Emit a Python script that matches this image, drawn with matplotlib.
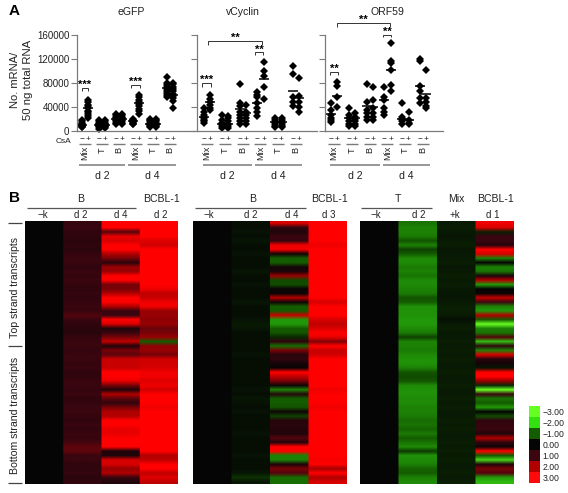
import numpy as np
import matplotlib
matplotlib.use("Agg")
import matplotlib.pyplot as plt
from matplotlib.colors import LinearSegmentedColormap, ListedColormap

plt.rcParams['font.family'] = ['Liberation Sans', 'DejaVu Sans']
W, H = 568, 493
fig = plt.figure(figsize=(W/100, H/100), dpi=100)

def axpx(x0, y0, x1, y1, **kw):
    return fig.add_axes([x0/W, 1-y1/H, (x1-x0)/W, (y1-y0)/H], **kw)

# ---------- Panel A data: columns are Mix-,Mix+,T-,T+,B-,B+ at d2, then d4
egfp_points = [
 [6000,7000,8000,9000,10000,11000,12000,14000,16000,18000],
 [22000,25000,28000,31000,34000,38000,41000,44000,48000,52000],
 [4000,6000,8000,9000,10000,11000,12000,14000,16000,18000],
 [5000,7000,8000,9000,10000,11000,12000,14000,16000,18000],
 [12000,14000,16000,18000,20000,22000,24000,26000,28000],
 [12000,14000,16000,18000,20000,22000,24000,26000,28000],
 [11000,12000,14000,15000,16000,17000,18000,19000,20000],
 [29000,33000,37000,41000,45000,48000,52000,56000,60000],
 [7000,8000,10000,11000,12000,14000,16000,18000,20000],
 [7000,8000,10000,11000,12000,14000,16000,18000,20000],
 [57000,60000,63000,66000,70000,73000,76000,80000,90000],
 [38000,50000,55000,58000,62000,66000,70000,74000,78000,80000],
]
egfp_means = [10000,38000,10000,10000,20000,20000,17000,46000,12000,12000,72000,60000]
vcyc_points = [
 [37700,32300,27000,24000,21500,19000,16000,13500],
 [60000,54000,48500,43000,39000,35000],
 [27000,19000,13500,11000,8000,5400],
 [25000,21500,16000,12000,9000,5400],
 [79000,46000,42000,32000,27000,21500,16000,12400],
 [43000,32300,27000,21500,16000,12400],
 [65000,60000,56600,46000,37700,32300,25000],
 [115000,100000,92000,74000,53000],
 [21500,18000,15000,12000,9000,7000],
 [21500,18000,15000,12000,9000,7000],
 [109000,95000,56600,48500,41500],
 [89000,59000,48500,40000,32300],
]
vcyc_means = [24000,48500,12400,12000,36600,30000,47000,87000,15000,15000,67000,55000]
orf_points = [
 [47000,35000,27000,21500,18000,14500],
 [82000,75000,56600,40000],
 [39000,27000,21500,16000,12400,9000],
 [30000,24000,20000,16000,12400,9000],
 [79000,48500,35000,30000,24000,19000],
 [74000,51000,38000,30000,24000,19000],
 [73000,56600,51000,38000,32300,27000],
 [146600,116000,114000,101000,76500,66000],
 [47000,24000,20000,16000,12400],
 [32300,18000,13500,11000],
 [120000,116000,75500,66000,55500,46000],
 [101000,55500,48500,41500,39000],
]
orf_means = [28000,59000,21000,21000,41500,40000,51000,102000,20000,19000,75500,62000]
y_ticks = [0,40000,80000,120000,160000]
group_names = ["Mix","T","B","Mix","T","B"]

# ---------- Panel B data (rows top to bottom)
p1_k  = [0.0]*60
p1_d2 = [0.9,1,0.8,0.8,0.7,0.8,0.7,0.9,1,1,0.8,1,0.9,1,0.9,0.8,0.9,0.8,0.9,1,0.9,1.2,1,0.8,0.7,0.7,0.9,1,1,0.9,
         1,1,0.9,1,0.8,0.8,1,1,0.9,1,0.8,0.9,1,1,0.9,0.8,1,0.8,1,0.9,1.1,1.3,1.3,1,1,0.8,0.8,0.9,0.7,0.8]
p1_d4 = [3,3,1.2,2.7,2.5,3,3,2,1.5,0.7,1.8,1.8,3,3,1.5,1.5,2,3,3,2,1,1,3,2.5,0.5,1,1.5,2.2,0.5,1.5,
         1.3,2.3,2.3,2.3,3,3,2.7,1.5,0.5,2,1.3,0.8,1.5,2,2,3,3,2.7,2.7,3,3,3,0.5,0.5,2.5,2.5,1.8,2,1,0.5]
p1_bc = [3,3,3,3,2.6,2.4,3,3,3,3,3,3,3,3,3,2.8,2.2,2.3,2.8,2.8,1.8,1.8,1.7,1.8,1.4,1.5,1.8,-1.0,1.7,1.8,
         1.5,2.4,2.4,2.5,2.8,2.8,2.6,2.8,2.4,3,3,3,2.8,3,3,3,3,3,3,3,3,3,3,2,2.2,3,3,2.2,2.6,2.2]
p2_k  = [0.0]*60
p2_d2 = [-0.1,-0.1,-0.15,-0.1,-0.2,-0.1,-0.1,-0.15,-0.1,-0.1,-0.1,-0.2,-0.1,-0.1,-0.15,-0.1,-0.1,-0.1,-0.2,-0.1,
         -0.1,-0.1,-0.15,-0.25,-0.2,-0.1,-0.1,-0.1,-0.1,-0.1,-0.15,-0.1,-0.1,-0.1,-0.1,-0.1,-0.1,-0.1,-0.15,-0.1,
         -0.2,-0.15,-0.1,-0.15,-0.1,-0.1,-0.1,-0.1,-0.15,-0.1,-0.1,-0.1,-0.1,-0.15,-0.1,-0.1,-0.1,-0.2,-0.5,-0.2]
p2_d4 = [2.5,0.8,0.5,1,0.9,2.8,2.8,0.2,-1,-1,0.3,0.4,1.8,-0.8,-0.8,0.1,0.1,2,0.2,-1,-1,2.3,-1.8,-1.8,-1,-0.9,-0.4,0.8,-1.2,1.5,
         0.7,0.8,0.3,0.1,3,2.2,1.5,0.2,-1.5,0.6,-1,-1,-0.9,0.2,-0.7,0.6,0.7,0.6,0.5,1.2,0.6,3,3,-1.5,-1.5,0.4,1.5,1.2,-1.2,-1.2]
p2_bc = [3,3,3,3,3,2.8,3,3,3,3,3,3,3,3,3,3,3,3,2.5,3,3,3,2.5,2.2,2.5,3,2.7,1.6,3,2.3,
         2.4,3,3,3,3,3,3,3,2.8,3,3,3,2.8,3,3,3,3,3,3,3,3,3,3,3,2.9,3,1.9,3,2,2.5]
p3_k  = [0.0]*60
p3_d2 = [-1.3,-1.5,-1.5,-1.4,-0.9,-1.5,-0.7,-1,-1.6,-1.6,-1.4,-1.5,-1.3,-1.6,-1.6,-1.5,-1.4,-0.9,-1,-1.7,
         -1.7,-1.7,-1.8,-1.8,-1.6,-1.4,-0.7,-1.5,-1.5,-1.4,-1.6,-1.7,-1.7,-1.5,-0.9,-0.8,-0.9,-1.6,-1.7,-1.7,
         -1.6,-1.6,-1.5,-1.5,-1.4,-1.2,-1.3,-1.1,-1.4,-1,-1.3,-1.6,-0.6,-1.7,-1.6,-1.5,-1.1,-1,-1.5,-1.6]
p3_mx = [-0.25,-0.3,-0.25,-0.2,-0.25,-0.3,-0.2,-0.25,-0.25,-0.3,-0.2,-0.25,-0.3,-0.25,-0.3,-0.25,-0.2,-0.2,-0.25,-0.3,
         -0.3,-0.25,-0.1,-0.25,-0.3,-0.25,-0.25,-0.3,-0.25,-0.3,-0.25,-0.3,-0.25,-0.25,-0.3,-0.25,-0.25,-0.3,-0.25,-0.25,
         -0.3,-0.25,-0.3,-0.25,-0.25,-0.3,-0.25,-0.3,-0.25,-0.25,-0.3,-0.25,-0.3,-0.25,-0.3,-0.25,-0.25,-0.3,-0.25,-0.3]
p3_bc = [2.8,2.5,-0.3,1,1,0.6,3,2.5,-1.5,0,-1.5,-1.3,0.4,2,-1.8,0,0.1,2.2,1,-1.5,-1.8,2,-1,-3,-1.5,-1.3,1.2,-2.2,0.8,-1.5,
         2.5,0.7,0.3,-0.2,3,3,1.8,-0.4,-3,1,-1.3,-1,-1.8,0,-0.8,0.8,0.9,1,0.5,2,0.8,0.2,3,-1,-2.5,0.5,1.5,1.2,-1.8,-2.2]
legend_values = [-3,-2,-1,0,1,2,3]
legend_labels = ["−3.00","−2.00","−1.00","0.00","1.00","2.00","3.00"]

legend_colors = ["#66ff22","#33e010","#145c00","#050505","#3a0610","#b00000","#ff0a0a"]
cmap = LinearSegmentedColormap.from_list("gbr", [(0,"#66ff22"),(1/6,"#25a80c"),(2/6,"#145c00"),(3/6,"#050505"),
                                                 (4/6,"#3a0610"),(5/6,"#b00000"),(1,"#ff0000")])
GRAY = "#7a7a7a"
TXT = "#222222"

# overlay in pixel coordinates
ov = axpx(0, 0, W, H)
ov.set_xlim(0, W); ov.set_ylim(H, 0); ov.axis("off"); ov.set_zorder(5)

def T(x, y, s, size=7.2, rot=0, ha="center", va="center", **kw):
    ov.text(x, y, s, fontsize=size, rotation=rot, ha=ha, va=va, color=kw.pop("color", TXT), **kw)

def L(xs, ys, c=GRAY, lw=1.0):
    ov.plot(xs, ys, color=c, lw=lw, solid_capstyle="butt", solid_joinstyle="miter")

def strip(x0, x1, first, step, points, means, show_labels):
    ax = axpx(x0, 35, x1, 131)
    ax.set_xlim(0, x1-x0); ax.set_ylim(0, 160000)
    for i, (p, m) in enumerate(zip(points, means)):
        x = first + (i//2)*step + (i % 2)*6.3
        ax.plot([x]*len(p), p, "D", color="black", ms=4.0, mew=0, clip_on=False)
        ax.plot([x-5, x+5], [m, m], color="black", lw=1.1, solid_capstyle="butt")
    for s in ("top", "right"):
        ax.spines[s].set_visible(False)
    for s in ("left", "bottom"):
        ax.spines[s].set_color(GRAY); ax.spines[s].set_linewidth(0.9)
    ax.set_xticks([])
    ax.set_yticks(y_ticks)
    ax.tick_params(axis="y", length=4, width=0.8, color=GRAY, pad=1.5, labelsize=7.0, labelcolor=TXT,
                   labelleft=show_labels)
    if show_labels:
        ax.set_yticklabels([str(v) for v in y_ticks])
    for g, name in enumerate(group_names):
        xa = x0 + first + g*step
        T(xa, 139, "−", 6); T(xa+6.3, 139, "+", 6)
        L([xa-3, xa+9], [144, 144])
        T(xa+3, 146 if name == "Mix" else 147, name, 6.6, rot=90, va="top")

strip(77, 195, 5, 17, egfp_points, egfp_means, True)
strip(197, 317, 7, 17.8, vcyc_points, vcyc_means, False)
strip(325, 443, 6, 17.8, orf_points, orf_means, False)

for x, s in [(131, "eGFP"), (243, "vCyclin"), (387, "ORF59")]:
    T(x, 12, s, 7.6)
T(15, 80, "No. mRNA/", 8, rot=90)
T(28, 80, "50 ng total RNA", 8.2, rot=90)
T(64, 141.5, "CsA", 6.0)
T(14, 11, "A", 11, fontweight="bold", color="black")
T(14, 198, "B", 11, fontweight="bold", color="black")

for a, b in [(79,125),(128,176),(203,252),(255,302),(330,380),(383,430)]:
    L([a, b], [165, 165], lw=1.1)
    T((a+b)/2, 176, "d 2" if (a,b) in [(79,125),(203,252),(330,380)] else "d 4", 7.6)

def br(x0, x1, y, d, stars, sy, sx=None):
    L([x0, x0, x1, x1], [y+d, y, y, y+d], c="#333333", lw=0.7)
    T((x0+x1)/2 if sx is None else sx, sy, stars, 8, color="black", fontweight="bold")

br(82, 88, 88, 3, "***", 84.5)
br(131, 140, 85, 3, "***", 81.5)
br(202, 211, 83, 4, "***", 80)
br(208, 262, 41, 4, "**", 38)
br(255, 263, 52, 3, "**", 50)
br(337, 390, 23, 4, "**", 20)
br(383, 391, 35, 2, "**", 32)
br(330, 338, 72, 3, "**", 69)

# ---------- Panel B heatmaps
def heat(x0, x1, cols):
    ax = axpx(x0, 221, x1, 484)
    # columns repeated so the smoothing softens rows, not the column edges
    grid = np.repeat(np.array(cols).T, 40, axis=1)
    ax.imshow(grid, aspect="auto", cmap=cmap, vmin=-3, vmax=3, interpolation="bilinear")
    ax.axis("off")

heat(25, 178, [p1_k, p1_d2, p1_d4, p1_bc])
heat(193, 347, [p2_k, p2_d2, p2_d4, p2_bc])
heat(360, 514, [p3_k, p3_d2, p3_mx, p3_bc])

for (a, b) in [(27,136),(195,306),(361,432)]:
    L([a, b], [208, 208], c="#555555", lw=0.9)
for x, s in [(81,"B"),(161,"BCBL-1"),(253,"B"),(329,"BCBL-1"),(398,"T"),(456,"Mix"),(495,"BCBL-1")]:
    T(x, 199, s, 7.6)
for x, s in [(43,"−k"),(81,"d 2"),(121,"d 4"),(161,"d 2"),(209,"−k"),(251,"d 2"),(292,"d 4"),(329,"d 3"),
             (376,"−k"),(419,"d 2"),(455,"+k"),(493,"d 1")]:
    T(x, 215, s, 7)

for y in (223, 346, 483):
    L([8, 22], [y, y], c="#444444", lw=0.9)
T(15, 287, "Top strand transcripts", 7.6, rot=90)
T(15, 415, "Bottom strand transcripts", 7.6, rot=90)

# ---------- Legend
cax = axpx(529, 406, 540, 483)
cax.imshow(np.array(legend_values).reshape(-1, 1), aspect="auto", cmap=ListedColormap(legend_colors),
           interpolation="nearest")
cax.set_xticks([])
cax.yaxis.tick_right()
cax.set_yticks(range(7))
cax.set_yticklabels(legend_labels)
cax.tick_params(axis="y", length=0, pad=2, labelsize=6.2, labelcolor=TXT)
for s in cax.spines.values():
    s.set_visible(False)

fig.savefig("out.png", dpi=100)
